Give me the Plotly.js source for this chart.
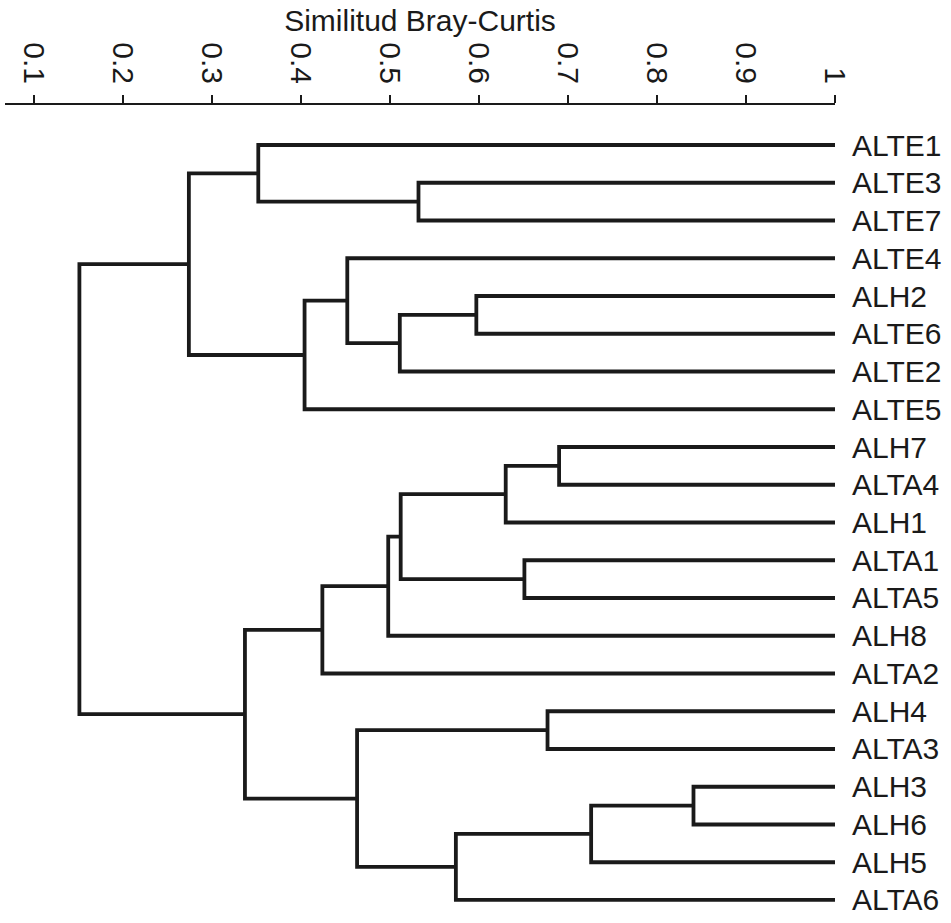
<!DOCTYPE html>
<html>
<head>
<meta charset="utf-8">
<script src="https://cdn.plot.ly/plotly-3.0.1.min.js"></script>
<style>html,body{margin:0;padding:0;background:#fff;}#chart{width:951px;height:923px;}</style>
</head>
<body>
<div id="chart"></div>
<script>
// Leaves, top to bottom
const leafLabels = ["ALTE1","ALTE3","ALTE7","ALTE4","ALH2","ALTE6","ALTE2","ALTE5",
  "ALH7","ALTA4","ALH1","ALTA1","ALTA5","ALH8","ALTA2","ALH4","ALTA3",
  "ALH3","ALH6","ALH5","ALTA6"];
// Merges: node ids 0..20 are leaves, merge k gets id 21+k
const mergeLeft  = [17, 21,  8, 15, 11, 23,  4, 22,  1, 26, 27, 30, 24,  3, 32, 34,  0, 35, 37, 39];
const mergeRight = [18, 19,  9, 16, 12, 10,  5, 20,  2, 25,  6, 13, 28, 31, 14,  7, 29, 33, 36, 38];
const mergeSim   = [0.841,0.726,0.690,0.677,0.651,0.630,0.597,0.574,0.532,0.512,0.511,0.498,0.463,0.452,0.424,0.404,0.352,0.337,0.274,0.151];
const tickValues = [0.1,0.2,0.3,0.4,0.5,0.6,0.7,0.8,0.9,1];
const tickLabels = ["0.1","0.2","0.3","0.4","0.5","0.6","0.7","0.8","0.9","1"];
const leafSim = 1;

const nodeX = [], nodeY = [];
leafLabels.forEach((l,i)=>{ nodeX.push(leafSim); nodeY.push(i); });
const xs = [], ys = [];
for (let k = 0; k < mergeSim.length; k++) {
  const a = mergeLeft[k], b = mergeRight[k], h = mergeSim[k];
  xs.push(nodeX[a], h, h, nodeX[b], null);
  ys.push(nodeY[a], nodeY[a], nodeY[b], nodeY[b], null);
  nodeX.push(h); nodeY.push((nodeY[a]+nodeY[b])/2);
}

const trace = {
  type: 'scatter', mode: 'lines', x: xs, y: ys,
  line: {color: '#1a1a1a', width: 3.8},
  hoverinfo: 'skip', showlegend: false
};

const font = "'Liberation Sans', Arial, sans-serif";
const layout = {
  width: 951, height: 923,
  margin: {l: 5, r: 116, t: 105, b: 0, pad: 0},
  paper_bgcolor: '#fff', plot_bgcolor: '#fff',
  font: {family: font, color: '#1a1a1a'},
  title: {text: 'Similitud Bray-Curtis', font: {size: 30, family: font, color: '#1a1a1a'},
          xref: 'paper', x: 0.5, xanchor: 'center', yref: 'container', y: 0.978, yanchor: 'middle'},
  xaxis: {
    side: 'top', range: [0.0674, 1.0], showgrid: false, zeroline: false,
    showline: true, linecolor: '#1a1a1a', linewidth: 2.5,
    ticks: 'outside', ticklen: 8, tickwidth: 2.5, tickcolor: '#1a1a1a',
    tickvals: tickValues, ticktext: tickLabels, tickangle: 90,
    tickfont: {size: 30, family: font, color: '#1a1a1a'}, fixedrange: true
  },
  yaxis: {
    side: 'right', range: [20.61, -1.06], showgrid: false, zeroline: false,
    showline: false, ticks: '', tickvals: leafLabels.map((l,i)=>i), ticktext: leafLabels,
    tickfont: {size: 30, family: font, color: '#1a1a1a'}, ticklabelstandoff: 16, fixedrange: true
  }
};
Plotly.newPlot('chart', [trace], layout, {displayModeBar: false, staticPlot: true});
</script>
</body>
</html>
